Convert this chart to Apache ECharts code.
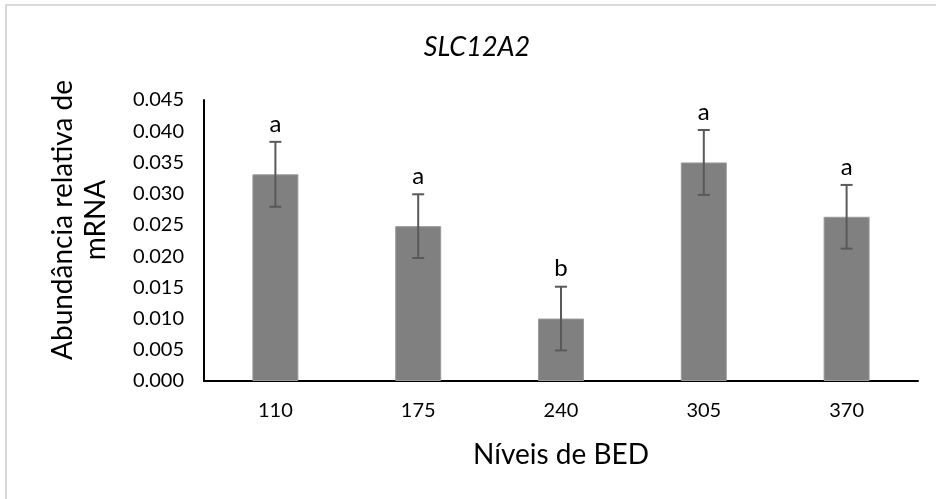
<!DOCTYPE html>
<html>
<head>
<meta charset="utf-8">
<script src="https://cdn.jsdelivr.net/npm/echarts@6/dist/echarts.min.js"></script>
<style>html,body{margin:0;padding:0;background:#fff}#c{width:936px;height:499px}</style>
</head>
<body>
<div id="c"></div>
<script>
var categories = ['110', '175', '240', '305', '370'];
var values = [0.0331, 0.0248, 0.0100, 0.0350, 0.0263];
var errors = [0.0052, 0.0051, 0.0051, 0.0052, 0.0051];
var letters = ['a', 'a', 'b', 'a', 'a'];

var FONT = 'Lato';
var chart = echarts.init(document.getElementById('c'));
var errData = values.map(function (v, i) { return [i, v - errors[i], v + errors[i]]; });

chart.setOption({
  animation: false,
  backgroundColor: '#fff',
  grid: { left: 204, right: 18, top: 100, bottom: 118 },
  graphic: [
    { type: 'rect', shape: { x: 6, y: 5, width: 960, height: 520 }, style: { fill: 'none', stroke: '#d9d9d9', lineWidth: 2 }, silent: true, z: -1 },
    { type: 'text', x: 477, y: 47, style: { text: 'SLC12A2', font: 'italic 27px ' + FONT, fill: '#000', textAlign: 'center', textVerticalAlign: 'middle' } },
    { type: 'text', x: 561, y: 455, style: { text: 'Níveis de BED', font: '28px ' + FONT, fill: '#000', textAlign: 'center', textVerticalAlign: 'middle' } },
    { type: 'text', x: 79, y: 220, rotation: Math.PI / 2, style: { text: 'Abundância relativa de\nmRNA', font: '28px ' + FONT, lineHeight: 33, fill: '#000', textAlign: 'center', textVerticalAlign: 'middle' } }
  ],
  xAxis: {
    type: 'category',
    data: categories,
    axisLine: { lineStyle: { color: '#000', width: 2 } },
    axisTick: { show: false },
    axisLabel: { color: '#000', fontFamily: FONT, fontSize: 20, margin: 20 }
  },
  yAxis: {
    type: 'value',
    min: 0, max: 0.045, interval: 0.005,
    axisLine: { show: true, lineStyle: { color: '#000', width: 2 } },
    axisTick: { show: false },
    splitLine: { show: false },
    axisLabel: { color: '#000', fontFamily: FONT, fontSize: 20, margin: 20,
      formatter: function (v) { return v.toFixed(3); } }
  },
  series: [
    { type: 'bar', data: values, barWidth: 46, itemStyle: { color: '#808080', borderColor: '#9a9a9a', borderWidth: 1 } },
    {
      type: 'custom',
      data: errData,
      z: 10,
      renderItem: function (params, api) {
        var x = api.coord([api.value(0), 0])[0];
        var lo = api.coord([api.value(0), api.value(1)])[1];
        var hi = api.coord([api.value(0), api.value(2)])[1];
        var cap = 6;
        var st = { stroke: '#595959', lineWidth: 2 };
        return { type: 'group', children: [
          { type: 'line', shape: { x1: x, y1: hi, x2: x, y2: lo }, style: st },
          { type: 'line', shape: { x1: x - cap, y1: hi, x2: x + cap, y2: hi }, style: st },
          { type: 'line', shape: { x1: x - cap, y1: lo, x2: x + cap, y2: lo }, style: st },
          { type: 'text', x: x, y: hi - 6, style: { text: letters[params.dataIndex], font: '24px ' + FONT, fill: '#000', textAlign: 'center', textVerticalAlign: 'bottom' } }
        ] };
      }
    }
  ]
});
</script>
</body>
</html>
